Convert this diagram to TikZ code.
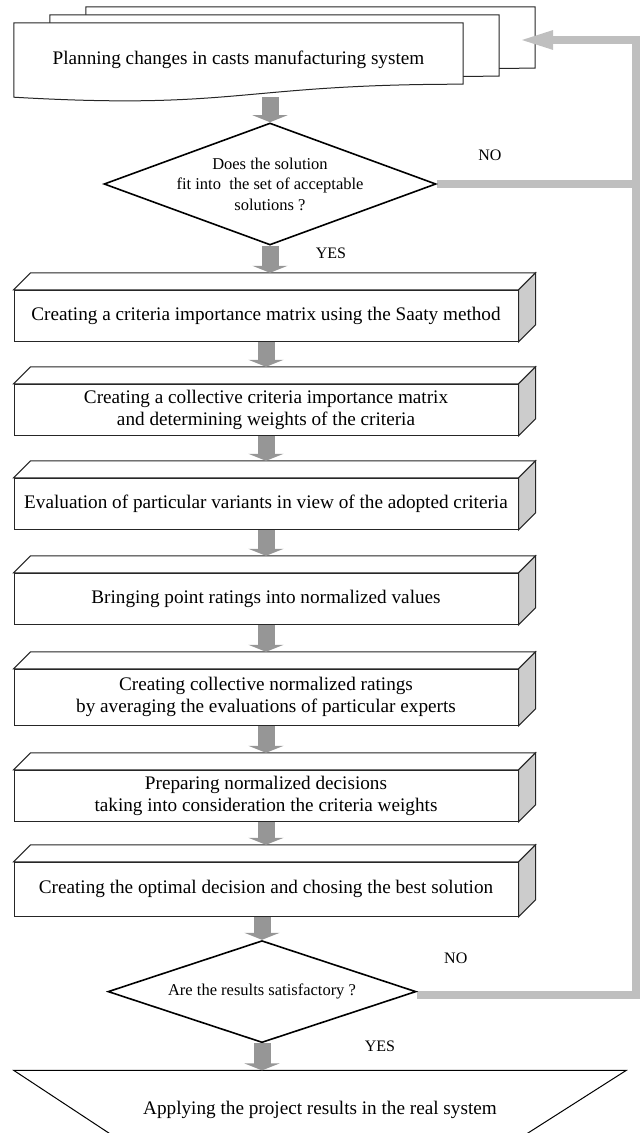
\documentclass[tikz,border=0pt]{standalone}
\usepackage{fontspec}
\setmainfont{Liberation Serif}
\usetikzlibrary{arrows.meta,backgrounds,calc,positioning,shapes.geometric}

\begin{document}
\begin{tikzpicture}[
    x=1pt, y=1pt,
    font=\fontsize{19.2}{22}\selectfont,
    sheet/.style={draw=black!85, line width=1pt, fill=white},
    stage/.style={draw=black!85, line width=1pt, fill=white, minimum width=504pt,
                  minimum height=51pt, inner xsep=1pt, align=center},
    check/.style={diamond, draw=black, line width=1.6pt, inner sep=-6pt, align=center,
                  font=\fontsize{16.5}{20.5}\selectfont},
    answer/.style={font=\fontsize{16}{19}\selectfont},
    flow/.style={-{Triangle[length=7pt,width=35pt]}, line width=17pt, black!41},
    back/.style={line width=8pt, black!25}
]
\path[use as bounding box] (0,0) rectangle (642,-1133);
\clip (0,0) rectangle (642,-1133);

\node[minimum width=449pt, minimum height=74pt, inner sep=0pt] (plan) at (238.5,-60)
    {Planning changes in casts manufacturing system};
\node[check, aspect=2.72, minimum width=332pt, minimum height=122pt,
      below=25pt of plan, xshift=31.5pt] (d1)
    {Does the solution\\fit into~ the set of acceptable\\solutions ?};

\node[stage, below=44pt of d1, xshift=-4pt] (b1)
    {Creating a criteria importance matrix using the Saaty method};
\node[stage, below=42pt of b1] (b2)
    {Creating a collective criteria importance matrix\\and determining weights of the criteria};
\node[stage, below=42pt of b2] (b3)
    {Evaluation of particular variants in view of the adopted criteria};
\node[stage, below=43pt of b3] (b4)
    {Bringing point ratings into normalized values};
\node[stage, below=44pt of b4, minimum height=56pt] (b5)
    {Creating collective normalized ratings\\by averaging the evaluations of particular experts};
\node[stage, below=44pt of b5] (b6)
    {Preparing normalized decisions\\taking into consideration the criteria weights};
\node[stage, below=40pt of b6, minimum height=54pt] (b7)
    {Creating the optimal decision and chosing the best solution};

\node[check, aspect=3.02, minimum width=308pt, minimum height=102pt,
      below=23pt of b7, xshift=-4pt] (d2) {Are the results satisfactory ?};
\node[minimum width=612pt, minimum height=78pt, below=27pt of d2, xshift=58pt] (apply)
    {Applying the project results in the real system};

% 3D faces of the stages
\foreach \n in {b1,b2,b3,b4,b5,b6,b7} {
  \draw[sheet] (\n.north west) -- ++(17,17) -- ([shift={(17,17)}]\n.north east)
      -- (\n.north east) -- cycle;
  \draw[sheet, fill=black!20] (\n.north east) -- ++(17,17)
      -- ([shift={(17,17)}]\n.south east) -- (\n.south east) -- cycle;
}
\draw[line width=1pt] (apply.north west) -- (apply.north east)
    -- ([xshift=-123pt]apply.south east) -- ([xshift=119pt]apply.south west) -- cycle;

% main flow
\draw[flow] (d1.north |- plan.south) -- (d1.north);
\draw[flow] (d1.south) -- ([yshift=17pt]b1.north -| d1.south);
\foreach \a/\b in {b1/b2,b2/b3,b3/b4,b4/b5,b5/b6,b6/b7}
  \draw[flow] (\a.south) -- ([yshift=17pt]\b.north);
\draw[flow] (b7.south -| d2.north) -- (d2.north);
\draw[flow] (d2.south) -- (d2.south |- apply.north);

\node[answer] (no1) at ([shift={(53,29)}]d1.east) {NO};
\node[answer] (yes1) at ([shift={(61,-7)}]d1.south) {YES};
\node[answer] (no2) at ([shift={(39,33)}]d2.east) {NO};
\node[answer] (yes2) at ([shift={(118,-3)}]d2.south) {YES};

\coordinate (ret) at ([shift={(55,20)}]plan.east);
\coordinate (rt) at ([xshift=118pt]ret);

\begin{scope}[on background layer]
% stacked sheets behind the first step
\foreach \dx/\dy in {72/16,36/8,0/0}
  \draw[sheet] ([shift={(\dx,\dy)}]plan.north west) -- ([shift={(\dx,\dy)}]plan.north east)
      -- ([shift={(\dx,\dy+13)}]plan.south east)
      .. controls ([shift={(\dx,\dy+13)}]plan.south) and ([shift={(\dx,\dy-13)}]plan.south)
      .. ([shift={(\dx,\dy)}]plan.south west) -- cycle;
% going back
\draw[back] (d1.east) -- (d1.east -| rt);
\draw[back, -{Triangle[length=35pt,width=17pt]}] ([yshift=-3pt]d2.east) -| (rt) -- (ret);
\end{scope}
\end{tikzpicture}
\end{document}
